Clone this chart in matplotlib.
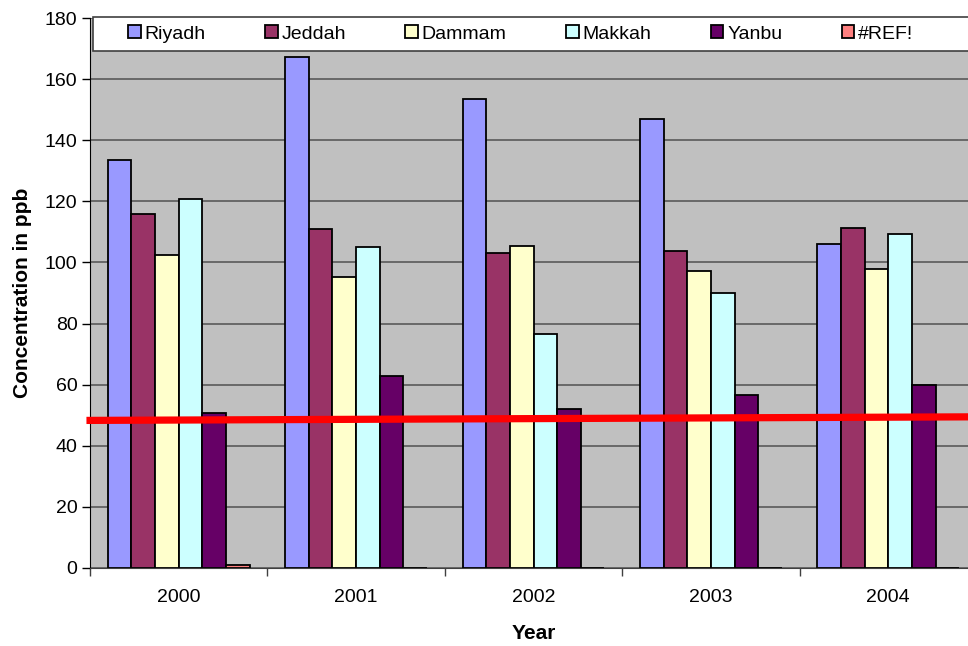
import numpy as np
import matplotlib.pyplot as plt
from matplotlib.patches import Rectangle

plt.rcParams['font.family'] = ['Liberation Sans', 'DejaVu Sans']

# annual mean concentrations per city
years = ['2000', '2001', '2002', '2003', '2004']
riyadh = [133.4, 167.2, 153.4, 146.9, 106.1]
jeddah = [115.7, 110.9, 103.2, 103.7, 111.2]
dammam = [102.4, 95.4, 105.5, 97.3, 97.9]
makkah = [120.7, 105.2, 76.7, 90.0, 109.4]
yanbu = [50.6, 62.8, 51.9, 56.7, 59.8]
ref_err = [0.9, 0, 0, 0, 0]

series = [('Riyadh', riyadh, '#9999FF'),
          ('Jeddah', jeddah, '#993366'),
          ('Dammam', dammam, '#FFFFCC'),
          ('Makkah', makkah, '#CCFFFF'),
          ('Yanbu', yanbu, '#660066'),
          ('#REF!', ref_err, '#FF8080')]

# standard line (in category units along x)
std_x = [-0.52, 4.6]
std_y = [48.3, 49.5]

fig = plt.figure(figsize=(9.68, 6.46), dpi=100)
ax = fig.add_axes([90/968, 78/646, 887/968, 550/646])
ax.set_facecolor('#C0C0C0')

x = np.arange(len(years))
w = 0.8 / len(series)
for i, (name, vals, col) in enumerate(series):
    pos = x - 0.4 + w * (i + 0.5)
    ax.bar(pos, vals, width=w, color=col, edgecolor='black', linewidth=1.3,
           label=name, zorder=2)

ax.plot(std_x, std_y, color='#FF0000', linewidth=5.2, solid_capstyle='butt',
        clip_on=False, zorder=5)

ax.set_xlim(-0.5, 4.5)
ax.set_ylim(0, 180)
ax.set_yticks(np.arange(0, 181, 20))
ax.yaxis.grid(True, color='#505050', linewidth=1.1)
ax.set_axisbelow(True)

ax.set_xticks(np.arange(-0.5, 5, 1))
ax.set_xticklabels([])
ax.set_xticks(x, minor=True)
ax.set_xticklabels(years, minor=True)
ax.tick_params(axis='x', which='minor', length=0, pad=15, labelsize=14)
ax.tick_params(axis='x', which='major', length=6, width=1, color='#404040')
ax.tick_params(axis='y', length=6, width=1, labelsize=14, pad=3)

for s in ['top', 'right']:
    ax.spines[s].set_visible(False)
ax.spines['left'].set_color('black')
ax.spines['bottom'].set_color('#404040')

ax.set_xlabel('Year', fontsize=15, fontweight='bold', labelpad=13)
ax.set_ylabel('Concentration in ppb', fontsize=15, fontweight='bold', labelpad=9)

# white legend band across the top of the plot
band = Rectangle((93/968, 1 - 51/646), 0.99, 34/646, transform=fig.transFigure,
                 facecolor='white', edgecolor='#404040', linewidth=1.2,
                 clip_on=False, zorder=6)
ax.add_patch(band)

leg = ax.legend(loc='center left', bbox_to_anchor=(128/968, 1 - 34/646),
                bbox_transform=fig.transFigure, ncol=6, fontsize=14,
                frameon=False, handlelength=0.65, handleheight=0.65,
                handletextpad=0.2, columnspacing=3.05, borderpad=0,
                borderaxespad=0)
leg.set_zorder(7)

fig.savefig('out.png', dpi=100)
